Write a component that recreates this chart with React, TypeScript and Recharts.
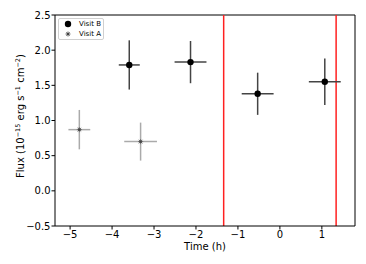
import { ScatterChart, Scatter, XAxis, YAxis, ErrorBar, ReferenceLine, Legend } from 'recharts';

// Visit B (black circles)
const visitBTime = [-3.59, -2.13, -0.53, 1.07];
const visitBFlux = [1.79, 1.83, 1.38, 1.55];
const visitBFluxErr = [0.35, 0.3, 0.3, 0.33];
const visitBTimeErr = [0.25, 0.38, 0.38, 0.38];

// Visit A (grey asterisks)
const visitATime = [-4.78, -3.32];
const visitAFlux = [0.87, 0.7];
const visitAFluxErr = [0.28, 0.27];
const visitATimeErr = [0.26, 0.39];

const xTicks = [-5, -4, -3, -2, -1, 0, 1];
const yTicks = [-0.5, 0, 0.5, 1, 1.5, 2, 2.5];
const transitEdges = [-1.34, 1.34];
const xDomain: [number, number] = [-5.36, 1.79];
const yDomain: [number, number] = [-0.5, 2.5];

const font = 'DejaVu Sans, sans-serif';

const visitB = visitBTime.map((t, i) => ({ x: t, y: visitBFlux[i], ey: visitBFluxErr[i], ex: visitBTimeErr[i] }));
const visitA = visitATime.map((t, i) => ({ x: t, y: visitAFlux[i], ey: visitAFluxErr[i], ex: visitATimeErr[i] }));

const minus = (s: string) => s.replace('-', '\u2212');

function Dot(props: any) {
  return <circle cx={props.cx} cy={props.cy} r={3.2} fill="#000" />;
}

function Asterisk(props: any) {
  const { cx, cy } = props;
  const r = 2.6;
  const d = r * 0.707;
  return (
    <g stroke="#666" strokeWidth={0.8}>
      <line x1={cx - r} y1={cy} x2={cx + r} y2={cy} />
      <line x1={cx} y1={cy - r} x2={cx} y2={cy + r} />
      <line x1={cx - d} y1={cy - d} x2={cx + d} y2={cy + d} />
      <line x1={cx - d} y1={cy + d} x2={cx + d} y2={cy - d} />
      <rect x={cx - 1.2} y={cy - 1.2} width={2.4} height={2.4} fill="#444" stroke="none" />
    </g>
  );
}

function LegendBox() {
  const row: React.CSSProperties = { display: 'flex', alignItems: 'center', height: 10 };
  return (
    <div
      style={{
        border: '1px solid #d0d0d0',
        borderRadius: 2,
        background: '#fff',
        width: 44,
        height: 20,
        fontFamily: font,
        fontSize: 7,
        color: '#000',
        lineHeight: 1,
      }}
    >
      <div style={row}>
        <svg width={20} height={10}>
          <circle cx={9} cy={5} r={3.2} fill="#000" />
        </svg>
        <span>Visit B</span>
      </div>
      <div style={row}>
        <svg width={20} height={10}>
          <Asterisk cx={9} cy={5} />
        </svg>
        <span>Visit A</span>
      </div>
    </div>
  );
}

function YLabel() {
  const x = 24;
  const y = 116;
  return (
    <text x={x} y={y} transform={`rotate(-90, ${x}, ${y})`} textAnchor="middle" fontFamily={font} fontSize={10} fill="#000">
      Flux (10
      <tspan dy={-4} fontSize={6.5}>−15</tspan>
      <tspan dy={4}> erg s</tspan>
      <tspan dy={-4} fontSize={6.5}>−1</tspan>
      <tspan dy={4}> cm</tspan>
      <tspan dy={-4} fontSize={6.5}>−2</tspan>
      <tspan dy={4}>)</tspan>
    </text>
  );
}

function XLabel() {
  return (
    <text x={205} y={250} textAnchor="middle" fontFamily={font} fontSize={10} fill="#000">
      Time (h)
    </text>
  );
}

export default function App() {
  const tick = { fill: '#000', fontSize: 10, fontFamily: font };
  return (
    <div style={{ position: 'absolute', left: 0, top: 0, width: 366, height: 264, background: '#fff' }}>
      <ScatterChart width={366} height={264} margin={{ top: 15, right: 11, left: 0, bottom: 0 }}>
        <XAxis
          type="number"
          dataKey="x"
          domain={xDomain}
          ticks={xTicks}
          allowDataOverflow
          height={38}
          tick={tick}
          tickSize={3.5}
          tickMargin={1.5}
          tickFormatter={(v: number) => minus(String(v))}
          axisLine={{ stroke: '#000' }}
          tickLine={{ stroke: '#000' }}
          label={{ content: () => <XLabel /> }}
        />
        <YAxis
          type="number"
          dataKey="y"
          domain={yDomain}
          ticks={yTicks}
          allowDataOverflow
          width={55}
          tick={tick}
          tickSize={3.5}
          tickMargin={1}
          tickFormatter={(v: number) => minus(v.toFixed(1))}
          axisLine={{ stroke: '#000' }}
          tickLine={{ stroke: '#000' }}
          label={{ content: () => <YLabel /> }}
        />
        <ReferenceLine y={yDomain[1]} stroke="#000" />
        <ReferenceLine x={xDomain[1]} stroke="#000" />
        {transitEdges.map((e) => (
          <ReferenceLine key={e} x={e} stroke="#ff2020" strokeWidth={1.5} />
        ))}
        <Legend
          layout="vertical"
          align="center"
          verticalAlign="middle"
          wrapperStyle={{ left: 58, top: 18, width: 'auto', height: 'auto' }}
          content={() => <LegendBox />}
        />
        <Scatter name="Visit A" data={visitA} shape={<Asterisk />} isAnimationActive={false}>
          <ErrorBar dataKey="ey" direction="y" width={0} stroke="#aaa" strokeWidth={1.5} />
          <ErrorBar dataKey="ex" direction="x" width={0} stroke="#aaa" strokeWidth={1.5} />
        </Scatter>
        <Scatter name="Visit B" data={visitB} shape={<Dot />} isAnimationActive={false}>
          <ErrorBar dataKey="ey" direction="y" width={0} stroke="#444" strokeWidth={1.5} />
          <ErrorBar dataKey="ex" direction="x" width={0} stroke="#444" strokeWidth={1.5} />
        </Scatter>
      </ScatterChart>
    </div>
  );
}
